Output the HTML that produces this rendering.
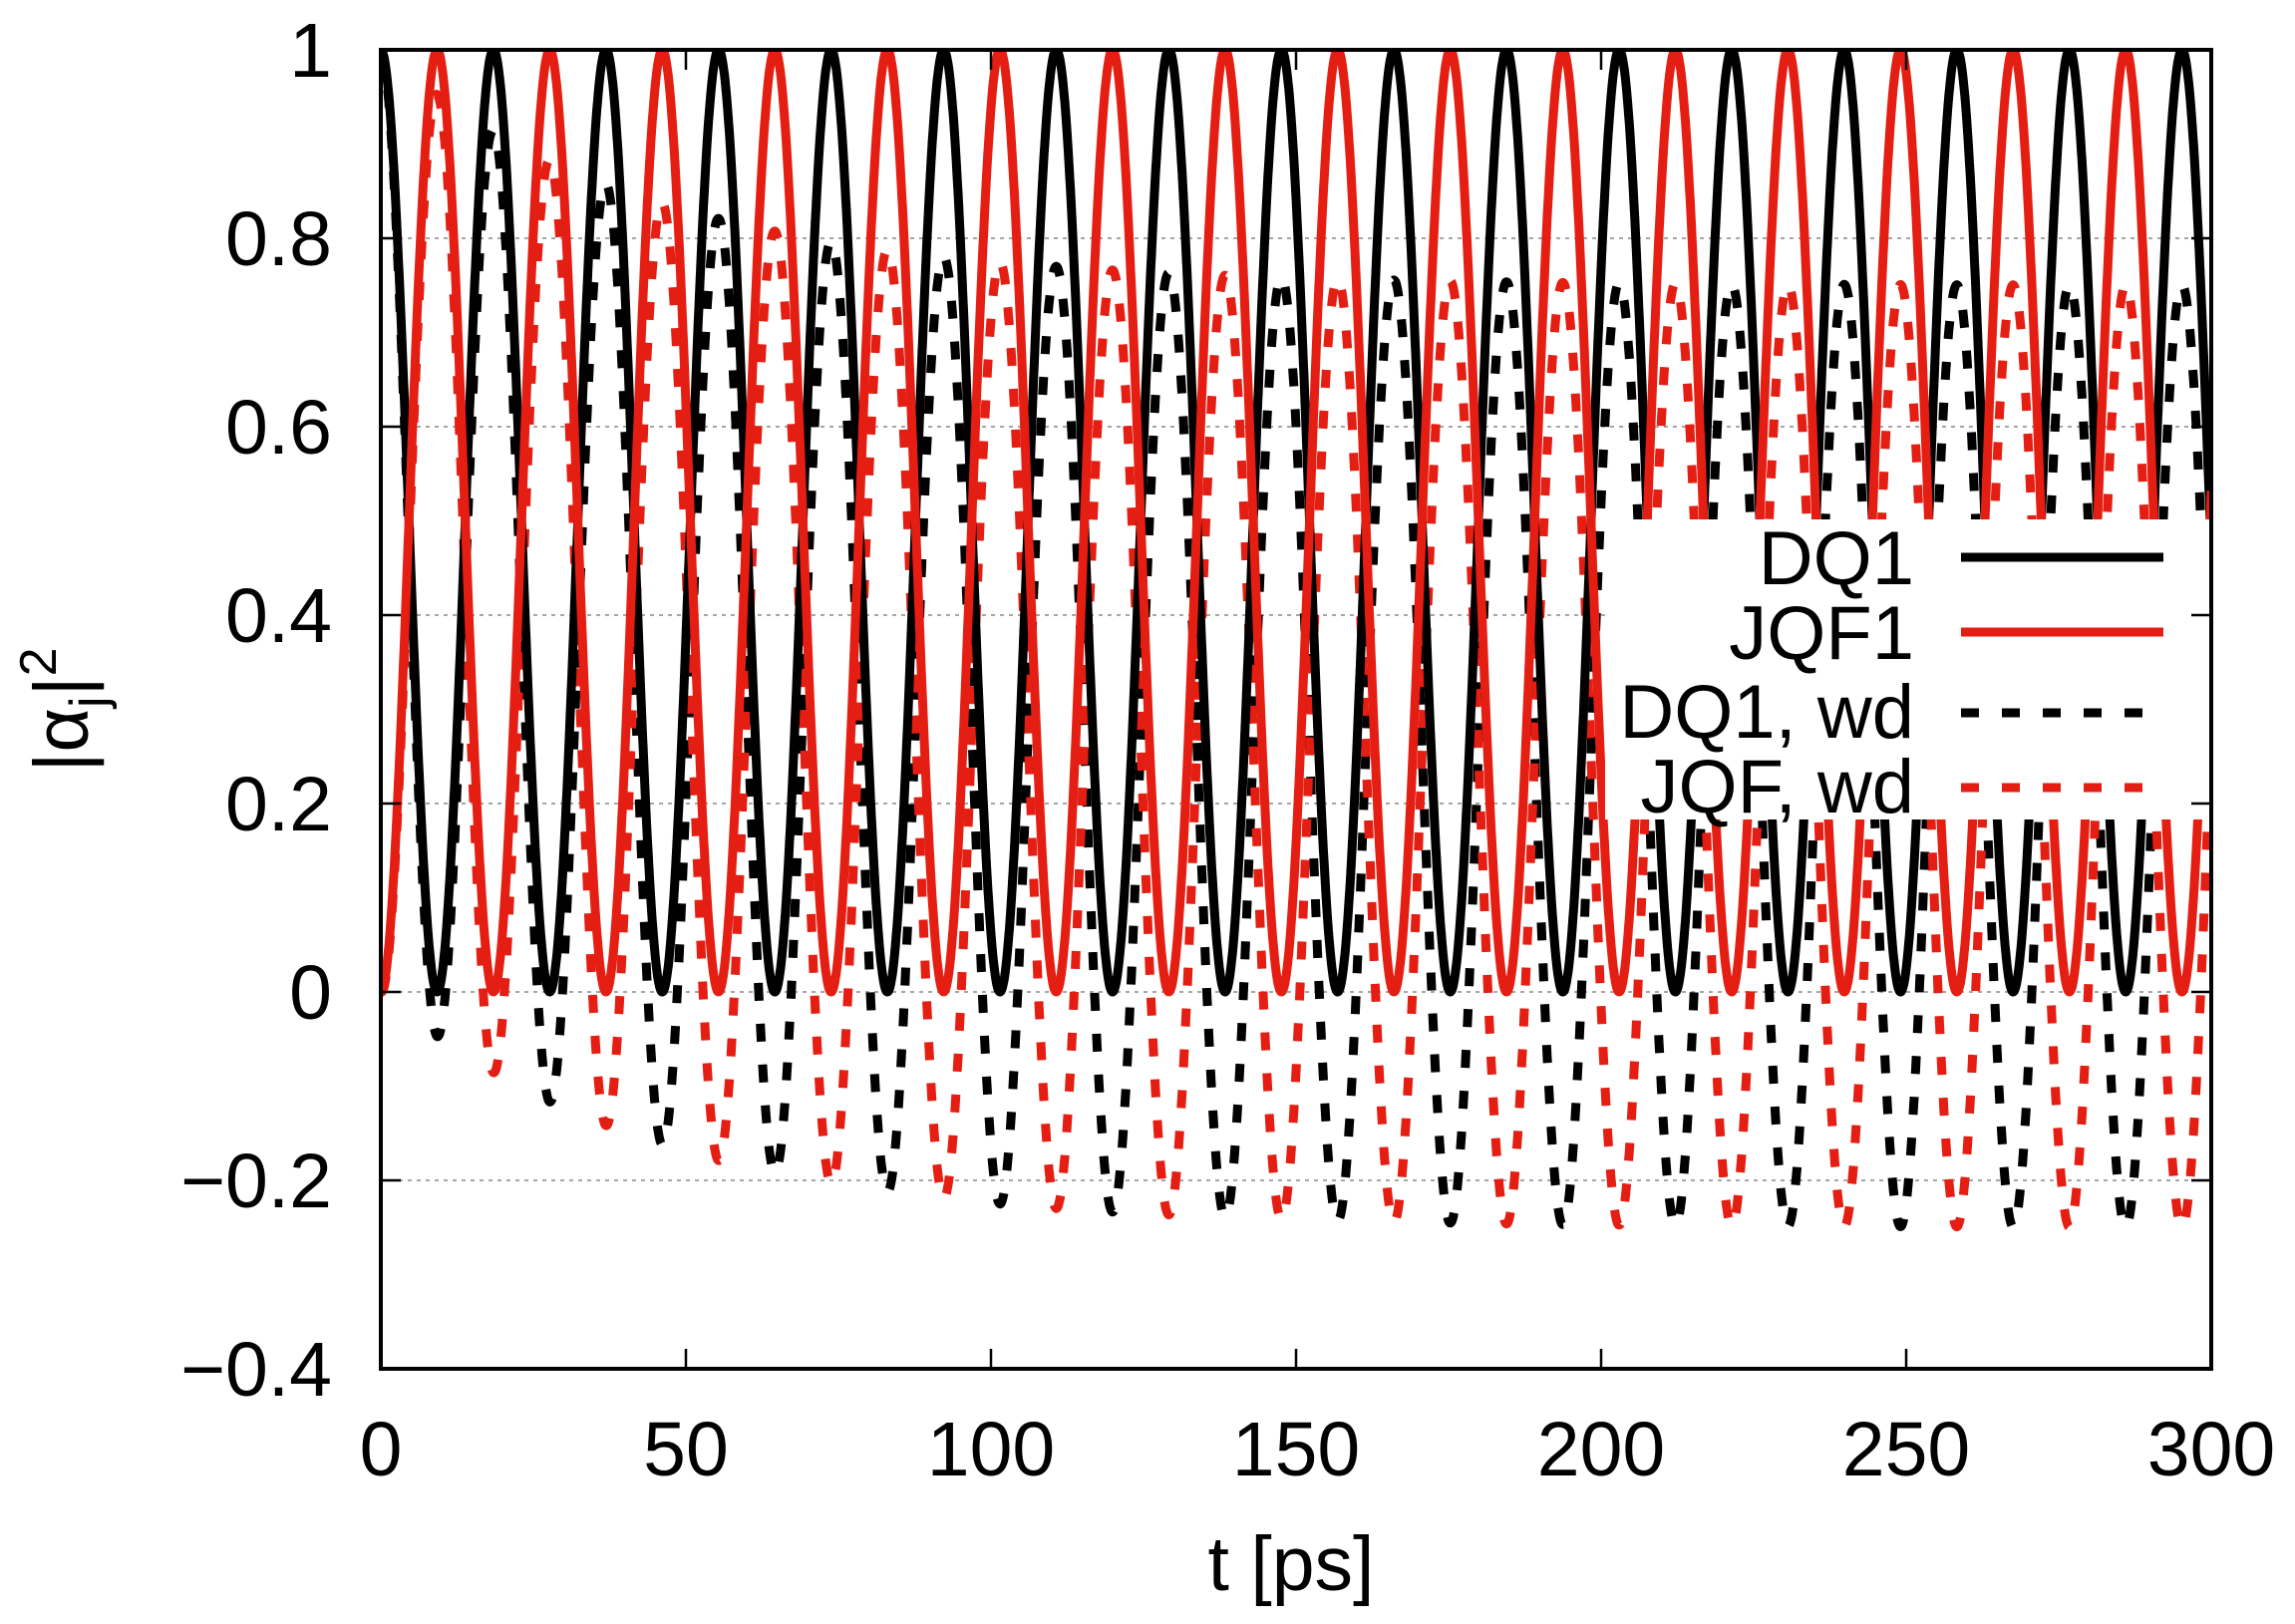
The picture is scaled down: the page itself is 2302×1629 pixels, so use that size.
<!DOCTYPE html>
<html><head><meta charset="utf-8"><style>
html,body{margin:0;padding:0;background:#fff;}
svg{display:block;font-family:"Liberation Sans",sans-serif;}
</style></head><body>
<svg id="s" width="2302" height="1629" viewBox="0 0 2302 1629" xmlns="http://www.w3.org/2000/svg">
<defs><clipPath id="c"><rect x="382" y="50" width="1836" height="1323"/></clipPath></defs>
<rect width="2302" height="1629" fill="#fff"/>
<g id="grid" stroke="#888" stroke-width="1.5" stroke-dasharray="4,5"></g>
<g id="curves" clip-path="url(#c)" fill="none" stroke-width="9" stroke-linejoin="round"></g>
<g>
<rect x="1610" y="521" width="606" height="301" fill="#fff"/>
<g font-size="76" text-anchor="end">
<text x="1920" y="586">DQ1</text>
<text x="1920" y="661">JQF1</text>
<text x="1920" y="740">DQ1, wd</text>
<text x="1920" y="815">JQF, wd</text>
</g>
<line x1="1967" y1="559" x2="2170" y2="559" stroke="#000" stroke-width="9"/>
<line x1="1967" y1="634" x2="2170" y2="634" stroke="#e41e12" stroke-width="9"/>
<line x1="1967" y1="715" x2="2155" y2="715" stroke="#000" stroke-width="9" stroke-dasharray="18,23"/>
<line x1="1967" y1="790" x2="2155" y2="790" stroke="#e41e12" stroke-width="9" stroke-dasharray="18,23"/>
</g>
<g id="ticks" stroke="#000" stroke-width="2.5"></g>
<rect x="382" y="50" width="1836" height="1323" fill="none" stroke="#000" stroke-width="4"/>
<g id="labels" font-size="77" fill="#000"></g>
<text x="1295" y="1595" font-size="77" text-anchor="middle">t [ps]</text>
<text transform="translate(88,712) rotate(-90)" font-size="77" text-anchor="middle">|α<tspan font-size="52" dy="18">j</tspan><tspan dy="-18">|</tspan><tspan font-size="52" dy="-32">2</tspan></text>
</svg>
<script>
(function(){
var NS="http://www.w3.org/2000/svg";
var L=382,R=2218,T=50,B=1373;
function X(t){return L+(t/300)*(R-L);}
function Y(v){return T+(1-v)/1.4*(B-T);}
function el(n,a,p){var e=document.createElementNS(NS,n);for(var k in a)e.setAttribute(k,a[k]);p.appendChild(e);return e;}
var grid=document.getElementById('grid'),ticks=document.getElementById('ticks'),lab=document.getElementById('labels');
var yv=[1,0.8,0.6,0.4,0.2,0,-0.2,-0.4],yl=["1","0.8","0.6","0.4","0.2","0","−0.2","−0.4"];
yv.forEach(function(v,i){var y=Y(v);
 if(i>0&&i<yv.length-1)el('line',{x1:L,y1:y,x2:R,y2:y},grid);
 el('line',{x1:L,y1:y,x2:L+20,y2:y},ticks);el('line',{x1:R,y1:y,x2:R-20,y2:y},ticks);
 var t=el('text',{x:333,y:y+27,'text-anchor':'end'},lab);t.textContent=yl[i];});
for(var k=0;k<=6;k++){var x=X(k*50);
 el('line',{x1:x,y1:B,x2:x,y2:B-20},ticks);el('line',{x1:x,y1:T,x2:x,y2:T+20},ticks);
 var t=el('text',{x:x,y:1480,'text-anchor':'middle'},lab);t.textContent=String(k*50);}
var P=18.45,cur=document.getElementById('curves');
function path(f){var d="";for(var t=0;t<=300.001;t+=0.1){d+=(d?"L":"M")+X(t).toFixed(1)+","+Y(f(t)).toFixed(1);}return d;}
function c(t){return 0.25*(1-Math.exp(-t/44));}
function cs(t){var u=Math.cos(Math.PI*t/P);return u*u;}
el('path',{d:path(function(t){var C=c(t);return (1-C)*cs(t)-C*(1-cs(t));}),stroke:'#000','stroke-dasharray':'18,23'},cur);
el('path',{d:path(function(t){var C=c(t);return (1-C)*(1-cs(t))-C*cs(t);}),stroke:'#e41e12','stroke-dasharray':'18,23'},cur);
el('path',{d:path(cs),stroke:'#000'},cur);
el('path',{d:path(function(t){return 1-cs(t);}),stroke:'#e41e12'},cur);
})();
</script>
</body></html>
